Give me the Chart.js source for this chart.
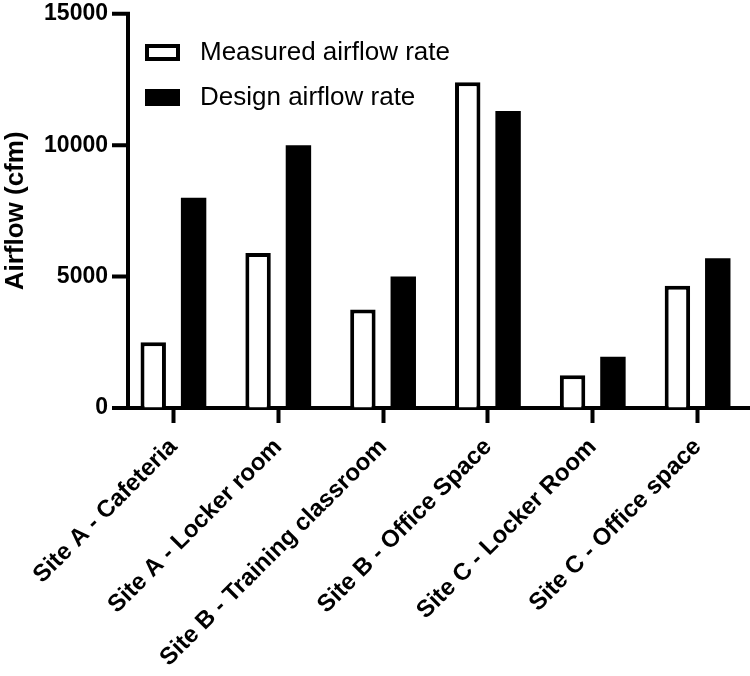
<!DOCTYPE html>
<html lang="en">
<head>
<meta charset="UTF-8">
<title>Airflow</title>
<style>
    body { margin: 0; background: #fff; }
    #wrap { width: 750px; height: 676px; }
</style>
</head>
<body>
<div id="wrap"><canvas id="airflow" width="750" height="676"></canvas></div>

<script src="https://cdn.jsdelivr.net/npm/chart.js@4.4.1/dist/chart.umd.min.js"></script>
<script>
    // dados
    var sites = ['Site A - Cafeteria', 'Site A - Locker room', 'Site B - Training classroom',
        'Site B - Office Space', 'Site C - Locker Room', 'Site C - Office space'];
    var measured = [2500, 5900, 3750, 12400, 1250, 4650];
    var design = [8000, 10000, 5000, 11300, 1950, 5700];
    var yTicks = [0, 5000, 10000, 15000];

    var fonte = '"Liberation Sans", Arial, sans-serif';

    // eixo y desenhado um pouco a direita da area (como no grafico original)
    var eixoY = {
        id: 'eixoY',
        afterDraw: function (chart) {
            var ctx = chart.ctx;
            var y = chart.scales.y;
            var x0 = chart.chartArea.left + 7;
            ctx.save();
            ctx.strokeStyle = '#000';
            ctx.lineWidth = 4;
            ctx.beginPath();
            ctx.moveTo(x0, y.getPixelForValue(yTicks[yTicks.length - 1]) - 2);
            ctx.lineTo(x0, y.getPixelForValue(0) + 2);
            for (var i = 0; i < yTicks.length; i++) {
                var py = y.getPixelForValue(yTicks[i]);
                ctx.moveTo(x0 - 16, py);
                ctx.lineTo(x0, py);
            }
            ctx.stroke();
            ctx.restore();
        }
    };

    // legenda desenhada dentro da area do grafico
    var legendaDentro = {
        id: 'legendaDentro',
        afterDraw: function (chart) {
            var ctx = chart.ctx;
            var ds = chart.data.datasets;
            ctx.save();
            for (var i = 0; i < ds.length; i++) {
                var y = 44 + i * 45;
                ctx.fillStyle = '#000';
                ctx.fillRect(145, y, 35, 17);
                if (ds[i].backgroundColor == '#ffffff') {
                    ctx.fillStyle = '#fff';
                    ctx.fillRect(149, y + 4, 27, 9);
                }
                ctx.fillStyle = '#000';
                ctx.font = '26px ' + fonte;
                ctx.textBaseline = 'middle';
                ctx.fillText(ds[i].label, 200, y + 9);
            }
            ctx.restore();
        }
    };

    var grafico = new Chart(document.getElementById('airflow'), {
        type: 'bar',
        data: {
            labels: sites,
            datasets: [{
                label: 'Measured airflow rate',
                data: measured,
                backgroundColor: '#ffffff',
                borderColor: '#000000',
                borderWidth: 4,
                categoryPercentage: 0.77,
                barPercentage: 0.63
            }, {
                label: 'Design airflow rate',
                data: design,
                backgroundColor: '#000000',
                borderColor: '#000000',
                borderWidth: 0,
                categoryPercentage: 0.77,
                barPercentage: 0.63
            }]
        },
        options: {
            responsive: false,
            animation: false,
            layout: { padding: { top: 13, right: 0, left: 0, bottom: 0 } },
            plugins: {
                legend: { display: false },
                tooltip: { enabled: false }
            },
            scales: {
                x: {
                    grid: { display: true, offset: false, drawOnChartArea: false, color: '#000', tickWidth: 4, tickLength: 15 },
                    border: { display: true, color: '#000', width: 4 },
                    ticks: {
                        color: '#000',
                        font: { family: fonte, size: 24, weight: 'bold' },
                        minRotation: 45,
                        maxRotation: 45,
                        padding: 10,
                        autoSkip: false
                    },
                    afterFit: function (scale) { scale.height = 268; }
                },
                y: {
                    min: 0,
                    max: 15000,
                    afterBuildTicks: function (scale) {
                        scale.ticks = yTicks.map(function (v) { return { value: v }; });
                    },
                    // marcas do proprio eixo ficam invisiveis, o plugin eixoY desenha
                    grid: { display: true, drawOnChartArea: false, color: 'rgba(0,0,0,0)', tickLength: 13 },
                    border: { display: false },
                    ticks: {
                        color: '#000',
                        font: { family: fonte, size: 23, weight: 'bold' },
                        padding: 0,
                        callback: function (v) { return String(v); }
                    },
                    title: {
                        display: true,
                        text: 'Airflow (cfm)',
                        color: '#000',
                        font: { family: fonte, size: 26, weight: 'bold' },
                        padding: { top: 0, bottom: 4 }
                    },
                    afterFit: function (scale) { scale.width = 121; }
                }
            }
        },
        plugins: [eixoY, legendaDentro]
    });
</script>
</body>
</html>
